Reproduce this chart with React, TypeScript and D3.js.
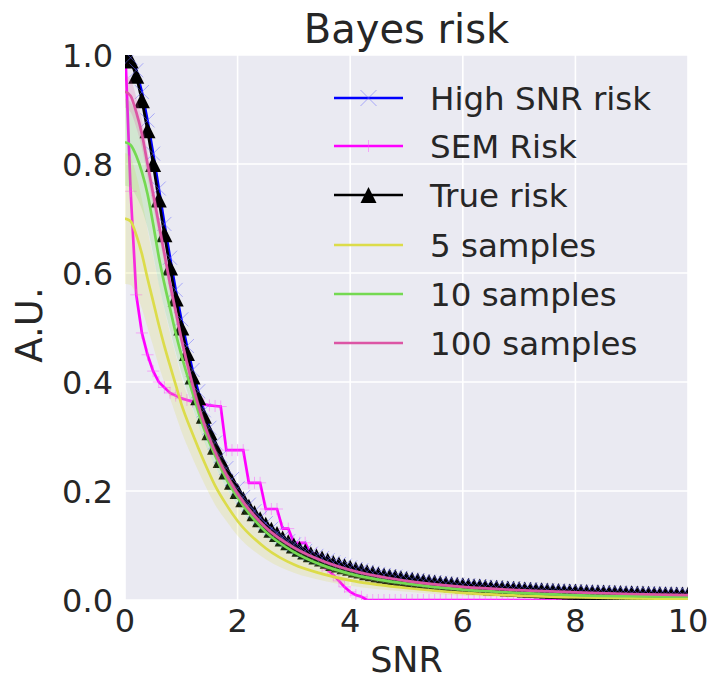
import React from 'react';
import * as d3 from 'd3';

// SNR grid for the sampled (marker) series: 0 .. 10 step 0.1
const SNR_GRID = d3.range(101).map((i) => i / 10);

const TRUE_RISK = [
  1.0, 0.990, 0.962, 0.917, 0.862, 0.800, 0.735, 0.671, 0.610, 0.553,
  0.500, 0.453, 0.410, 0.372, 0.338, 0.308, 0.281, 0.257, 0.236, 0.217,
  0.200, 0.185, 0.171, 0.159, 0.148, 0.138, 0.129, 0.121, 0.113, 0.106,
  0.100, 0.094, 0.089, 0.084, 0.080, 0.076, 0.072, 0.068, 0.065, 0.062,
  0.059, 0.056, 0.054, 0.051, 0.049, 0.047, 0.045, 0.043, 0.042, 0.040,
  0.0385, 0.037, 0.0357, 0.0344, 0.0331, 0.032, 0.0309, 0.0299, 0.0289, 0.0279,
  0.027, 0.0262, 0.0253, 0.0246, 0.0238, 0.0231, 0.0224, 0.0218, 0.0212, 0.0206,
  0.020, 0.0194, 0.0189, 0.0184, 0.0179, 0.0175, 0.017, 0.0166, 0.0162, 0.0158,
  0.0154, 0.015, 0.0147, 0.0143, 0.014, 0.0137, 0.0134, 0.0131, 0.0128, 0.0125,
  0.0122, 0.0119, 0.0117, 0.0114, 0.0112, 0.011, 0.0107, 0.0105, 0.0103, 0.0101,
  0.0099,
];

const HIGH_SNR_RISK = [
  1.02, 0.995, 0.972, 0.932, 0.880, 0.819, 0.755, 0.690, 0.628, 0.569,
  0.515, 0.466, 0.422, 0.383, 0.348, 0.316, 0.289, 0.264, 0.242, 0.222,
  0.205, 0.189, 0.175, 0.163, 0.151, 0.141, 0.131, 0.123, 0.115, 0.108,
  0.102, 0.096, 0.090, 0.085, 0.081, 0.077, 0.073, 0.069, 0.066, 0.063,
  0.060, 0.057, 0.055, 0.052, 0.050, 0.048, 0.046, 0.044, 0.043, 0.041,
  0.0393, 0.0378, 0.0364, 0.0351, 0.0338, 0.0327, 0.0316, 0.0305, 0.0295, 0.0285,
  0.0276, 0.0267, 0.0258, 0.0251, 0.0243, 0.0236, 0.0229, 0.0223, 0.0217, 0.0211,
  0.0205, 0.0199, 0.0194, 0.0189, 0.0184, 0.0179, 0.0174, 0.017, 0.0166, 0.0162,
  0.0158, 0.0154, 0.0151, 0.0147, 0.0144, 0.0141, 0.0138, 0.0135, 0.0132, 0.0129,
  0.0126, 0.0123, 0.012, 0.0118, 0.0116, 0.0114, 0.0111, 0.0109, 0.0107, 0.0105,
  0.0103,
];

const SEM_RISK = [
  1.02, 0.75, 0.56, 0.49, 0.45, 0.42, 0.40, 0.39, 0.38, 0.375,
  0.37, 0.367, 0.364, 0.361, 0.359, 0.357, 0.356, 0.355, 0.275, 0.275,
  0.275, 0.275, 0.215, 0.215, 0.215, 0.167, 0.167, 0.167, 0.131, 0.131,
  0.105, 0.105, 0.105, 0.085, 0.085, 0.062, 0.055, 0.046, 0.035, 0.024,
  0.015, 0.009, 0.006, 0, 0, 0, 0, 0, 0, 0,
  0, 0, 0, 0, 0, 0, 0, 0, 0, 0,
  0, 0, 0, 0, 0, 0, 0, 0, 0, 0,
  0, 0, 0, 0, 0, 0, 0, 0, 0, 0,
  0, 0, 0, 0, 0, 0, 0, 0, 0, 0,
  0, 0, 0, 0, 0, 0, 0, 0, 0, 0,
  0,
];

// Sample-based estimates (smooth lines, read at knots)
const SAMPLE_SNR = [0, 0.1, 0.2, 0.3, 0.4, 0.5, 0.6, 0.7, 0.8, 0.9, 1.0, 1.2, 1.4, 1.6, 1.8, 2.0, 2.5, 3.0, 3.5, 4.0, 5, 6, 7, 8, 9, 10];

const S5_MEAN = [0.70, 0.695, 0.67, 0.635, 0.59, 0.548, 0.505, 0.466, 0.43, 0.395, 0.36, 0.305, 0.255, 0.21, 0.175, 0.145, 0.095, 0.065, 0.048, 0.036, 0.022, 0.013, 0.008, 0.005, 0.003, 0.002];
const S5_SPREAD = [0.12, 0.117, 0.11, 0.1, 0.09, 0.082, 0.075, 0.067, 0.06, 0.055, 0.05, 0.045, 0.04, 0.035, 0.03, 0.027, 0.02, 0.015, 0.012, 0.01, 0.007, 0.005, 0.004, 0.003, 0.002, 0.002];

const S10_MEAN = [0.84, 0.835, 0.815, 0.785, 0.745, 0.69, 0.63, 0.58, 0.535, 0.49, 0.45, 0.38, 0.315, 0.265, 0.222, 0.188, 0.125, 0.088, 0.064, 0.048, 0.03, 0.019, 0.013, 0.009, 0.007, 0.006];
const S10_SPREAD = [0.08, 0.078, 0.074, 0.068, 0.062, 0.056, 0.05, 0.045, 0.04, 0.036, 0.032, 0.027, 0.022, 0.019, 0.016, 0.014, 0.01, 0.008, 0.006, 0.005, 0.004, 0.003, 0.002, 0.002, 0.002, 0.002];

const S100_MEAN = [0.933, 0.925, 0.895, 0.855, 0.80, 0.745, 0.69, 0.635, 0.58, 0.53, 0.48, 0.395, 0.325, 0.272, 0.23, 0.195, 0.133, 0.096, 0.072, 0.055, 0.035, 0.024, 0.018, 0.014, 0.011, 0.009];
const S100_SPREAD = [0.03, 0.03, 0.028, 0.026, 0.024, 0.022, 0.02, 0.018, 0.016, 0.015, 0.014, 0.012, 0.01, 0.009, 0.008, 0.007, 0.005, 0.004, 0.003, 0.003, 0.002, 0.002, 0.001, 0.001, 0.001, 0.001];

const X_TICKS = [0, 2, 4, 6, 8, 10];
const Y_TICKS = [0, 0.2, 0.4, 0.6, 0.8, 1.0];

const LEGEND_LABELS = ['High SNR risk', 'SEM Risk', 'True risk', '5 samples', '10 samples', '100 samples'];

const C_BLUE = '#0000ff';
const C_MAGENTA = '#ff00ff';
const C_YELLOW = '#dcdc4a';
const C_GREEN = '#74d952';
const C_PINK = '#dc55a5';
const TEXT = '#262626';
const FONT = 'DejaVu Sans, sans-serif';

export default function App() {
  const L = 125, R = 688, T = 55, B = 600;
  const x = d3.scaleLinear().domain([0, 10]).range([L, R]);
  const y = d3.scaleLinear().domain([0, 1]).range([B, T]);

  const gridLine = d3.line<[number, number]>().x((d) => x(d[0])).y((d) => y(d[1]));
  const smooth = d3.line<[number, number]>().x((d) => x(d[0])).y((d) => y(d[1])).curve(d3.curveMonotoneX);
  const band = d3
    .area<[number, number, number]>()
    .x((d) => x(d[0]))
    .y0((d) => y(d[1] - d[2]))
    .y1((d) => y(d[1] + d[2]))
    .curve(d3.curveMonotoneX);

  const pts = (vals: number[]) => SNR_GRID.map((s, i) => [s, vals[i]] as [number, number]);
  const spts = (vals: number[]) => SAMPLE_SNR.map((s, i) => [s, vals[i]] as [number, number]);
  const bpts = (m: number[], sp: number[]) => SAMPLE_SNR.map((s, i) => [s, m[i], sp[i]] as [number, number, number]);

  const tri = 16;
  const triPath = (cx: number, cy: number) =>
    `M${cx},${cy - tri / 2}L${cx + tri / 2},${cy + tri / 2}L${cx - tri / 2},${cy + tri / 2}Z`;

  const legendY = [98, 146, 195, 245, 294, 343];
  const lx0 = 334, lx1 = 403, ltx = 430;
  const lmid = (lx0 + lx1) / 2;
  const xColor = 'rgba(100,100,255,0.5)';
  const pColor = 'rgba(255,80,255,0.45)';

  const samples = [
    { mean: S5_MEAN, spread: S5_SPREAD, color: C_YELLOW },
    { mean: S10_MEAN, spread: S10_SPREAD, color: C_GREEN },
    { mean: S100_MEAN, spread: S100_SPREAD, color: C_PINK },
  ];

  return (
    <svg width={707} height={681} style={{ position: 'absolute', left: 0, top: 0, display: 'block' }}>
      <defs>
        <clipPath id="plotclip">
          <rect x={L} y={T} width={R - L} height={B - T} />
        </clipPath>
      </defs>
      <rect x={0} y={0} width={707} height={681} fill="#ffffff" />
      <rect x={L} y={T} width={R - L} height={B - T} fill="#eaeaf2" />
      {X_TICKS.map((t) => (
        <line key={'gx' + t} x1={x(t)} x2={x(t)} y1={T} y2={B} stroke="#ffffff" strokeWidth={1.6} />
      ))}
      {Y_TICKS.map((t) => (
        <line key={'gy' + t} x1={L} x2={R} y1={y(t)} y2={y(t)} stroke="#ffffff" strokeWidth={1.6} />
      ))}

      <g clipPath="url(#plotclip)">
        {/* High SNR risk */}
        <path d={gridLine(pts(HIGH_SNR_RISK)) || ''} fill="none" stroke={C_BLUE} strokeWidth={2.7} />
        {/* SEM risk */}
        <path d={gridLine(pts(SEM_RISK)) || ''} fill="none" stroke={C_MAGENTA} strokeWidth={2.7} />
        {SNR_GRID.map((s, i) => {
          const cx = x(s), cy = y(SEM_RISK[i]), h = 6;
          return (
            <path key={'sp' + i} d={`M${cx - h},${cy}L${cx + h},${cy}M${cx},${cy - h}L${cx},${cy + h}`}
              stroke={pColor} strokeWidth={1} fill="none" />
          );
        })}
        {/* True risk */}
        <path d={gridLine(pts(TRUE_RISK)) || ''} fill="none" stroke="#000000" strokeWidth={2.7} />
        {SNR_GRID.map((s, i) => (
          <path key={'tr' + i} d={triPath(x(s), y(TRUE_RISK[i]))} fill="#000000" />
        ))}
        {SNR_GRID.map((s, i) => {
          const cx = x(s), cy = y(HIGH_SNR_RISK[i]), h = 7;
          return (
            <path key={'hx' + i} d={`M${cx - h},${cy - h}L${cx + h},${cy + h}M${cx - h},${cy + h}L${cx + h},${cy - h}`}
              stroke={xColor} strokeWidth={1} fill="none" />
          );
        })}
        {/* sample estimates */}
        {samples.map((sm, k) => (
          <g key={'s' + k}>
            <path d={band(bpts(sm.mean, sm.spread)) || ''} fill={sm.color} fillOpacity={0.2} stroke="none" />
            <path d={smooth(spts(sm.mean)) || ''} fill="none" stroke={sm.color} strokeWidth={2.7} />
          </g>
        ))}
      </g>

      {/* ticks */}
      {X_TICKS.map((t) => (
        <text key={'xt' + t} x={x(t)} y={632} textAnchor="middle" fontFamily={FONT} fontSize={32} fill={TEXT}>
          {t}
        </text>
      ))}
      {Y_TICKS.map((t) => (
        <text key={'yt' + t} x={113} y={y(t) + 11.5} textAnchor="end" fontFamily={FONT} fontSize={32} fill={TEXT}>
          {t.toFixed(1)}
        </text>
      ))}
      <text x={(L + R) / 2} y={672} textAnchor="middle" fontFamily={FONT} fontSize={35} fill={TEXT}>SNR</text>
      <text transform={`translate(42,325) rotate(-90)`} textAnchor="middle" fontFamily={FONT} fontSize={37} fill={TEXT}>A.U.</text>
      <text x={(L + R) / 2} y={43} textAnchor="middle" fontFamily={FONT} fontSize={40} fill={TEXT}>Bayes risk</text>

      {/* legend */}
      <g>
        {LEGEND_LABELS.map((lab, i) => (
          <text key={'lt' + i} x={ltx} y={legendY[i] + 11.5} fontFamily={FONT} fontSize={32.5} fill={TEXT}>{lab}</text>
        ))}
        <line x1={lx0} x2={lx1} y1={legendY[0]} y2={legendY[0]} stroke={C_BLUE} strokeWidth={2.7} />
        <path d={`M${lmid - 8},${legendY[0] - 8}L${lmid + 8},${legendY[0] + 8}M${lmid - 8},${legendY[0] + 8}L${lmid + 8},${legendY[0] - 8}`}
          stroke={xColor} strokeWidth={1} fill="none" />
        <line x1={lx0} x2={lx1} y1={legendY[1]} y2={legendY[1]} stroke={C_MAGENTA} strokeWidth={2.7} />
        <path d={`M${lmid},${legendY[1] - 6}L${lmid},${legendY[1] + 6}`}
          stroke={pColor} strokeWidth={1} fill="none" />
        <line x1={lx0} x2={lx1} y1={legendY[2]} y2={legendY[2]} stroke="#000000" strokeWidth={2.7} />
        <path d={triPath(lmid, legendY[2])} fill="#000000" />
        <line x1={lx0} x2={lx1} y1={legendY[3]} y2={legendY[3]} stroke={C_YELLOW} strokeWidth={2.7} />
        <line x1={lx0} x2={lx1} y1={legendY[4]} y2={legendY[4]} stroke={C_GREEN} strokeWidth={2.7} />
        <line x1={lx0} x2={lx1} y1={legendY[5]} y2={legendY[5]} stroke={C_PINK} strokeWidth={2.7} />
      </g>
    </svg>
  );
}
